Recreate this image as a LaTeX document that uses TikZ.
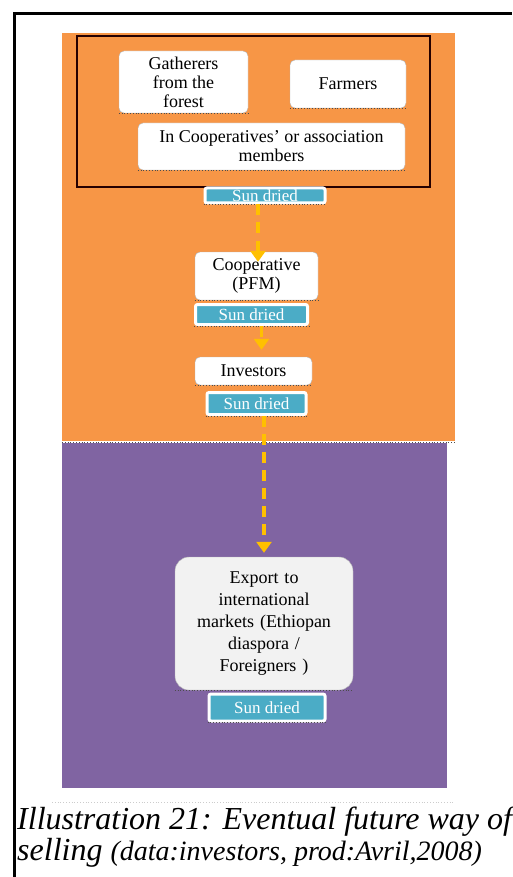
\documentclass[tikz,border=0pt]{standalone}
\usepackage{fontspec}
\setmainfont{Liberation Serif}
\usepackage{tikz}
\usetikzlibrary{arrows.meta,positioning}

\definecolor{sellorange}{HTML}{F79646}
\definecolor{sellpurple}{HTML}{8064A2}
\definecolor{sellteal}{HTML}{4BACC6}
\definecolor{sellgold}{HTML}{FFC000}

\begin{document}
\begin{tikzpicture}[x=1pt,y=-1pt,
  actor/.style={rectangle,rounded corners=5pt,draw=gray!60,fill=white,align=center,inner sep=1pt,font=\fontsize{18}{19}\selectfont},
  market/.style={actor,rounded corners=14pt,fill=gray!10,font=\fontsize{18}{22}\selectfont},
  dried/.style={rectangle,rounded corners=2pt,draw=white,line width=3pt,fill=sellteal,text=white,inner sep=0pt,font=\fontsize{17}{17}\selectfont},
  flow/.style={line width=3.5pt,draw=sellgold,dash pattern=on 11pt off 7pt,-{Triangle[width=15pt,length=11pt,sep=0pt]}},
  rim/.style={draw=black!70,line width=0.8pt,dotted}]
\useasboundingbox (0,0) rectangle (512,877);
% outer frame
\draw[line width=3pt] (14,877) -- (14,14) -- (512,14);
% bands
\fill[sellorange] (62,33) rectangle (455,441);
\fill[sellpurple] (62,443) rectangle (447,788);
\draw[white,line width=2pt] (62,442) -- (455,442);
\draw[black!70,dotted,line width=0.8pt] (62,442) -- (455,442);
\draw[gray!40,dotted,line width=0.8pt] (52,802) -- (455,802);
\draw[line width=2.5pt,draw=black!85!red] (77,36) rectangle (430,187);
% producers
\node(gath)[actor,minimum width=129pt,minimum height=62pt] at (183.5,82) {Gatherers\\from the\\forest};
\node(farm)[actor,minimum width=116pt,minimum height=48pt] at (348,84) {Farmers};
\node(memb)[actor,minimum width=267pt,minimum height=47pt] at (271.5,146.5) {In Cooperatives' or association\\members};
\node(sun1)[dried,minimum width=120pt,minimum height=15pt] at (265,195.5) {Sun dried};
% cooperative
\node(coop)[actor,minimum width=123pt,minimum height=48pt] at (256.5,276) {Cooperative\\(PFM)};
\node(sun2)[dried,minimum width=112pt,minimum height=20pt] at (251.5,314.5) {Sun dried};
% investors
\node(inv)[actor,minimum width=117pt,minimum height=28pt] at (253.5,371) {Investors};
\node(sun3)[dried,minimum width=99pt,minimum height=22pt] at (256.5,403.5) {Sun dried};
% export
\node(exp)[market,minimum width=178pt,minimum height=133pt,text width=170pt] at (264,623.5) {Export to\\international\\markets (Ethiopan\\diaspora /\\Foreigners )};
\node(sun4)[dried,minimum width=116pt,minimum height=27pt] at (267,707.5) {Sun dried};
\foreach \n in {gath,farm,memb,sun1,coop,sun2,inv,sun3,exp,sun4}
  \draw[rim] (\n.south west) -- (\n.south east);
\draw[flow] ([xshift=-7pt]sun1.south) -- ([xshift=1.5pt,yshift=-10pt]coop.north);
\draw[flow] ([xshift=10pt]sun2.south) -- ([xshift=8pt,yshift=7pt]inv.north);
\draw[flow] (sun3.south -| exp.north) -- ([yshift=4pt]exp.north);
% caption
\node(cap1)[anchor=base west,inner sep=0pt,font=\fontsize{32}{32}\selectfont\itshape] at (17,829) {Illustration 21: Eventual future way of};
\node(cap2)[anchor=base west,inner sep=0pt,font=\fontsize{32}{32}\selectfont\itshape] at (17,860) {selling {\fontsize{28}{28}\selectfont(data:investors, prod:Avril,2008)}};
\end{tikzpicture}
\end{document}
